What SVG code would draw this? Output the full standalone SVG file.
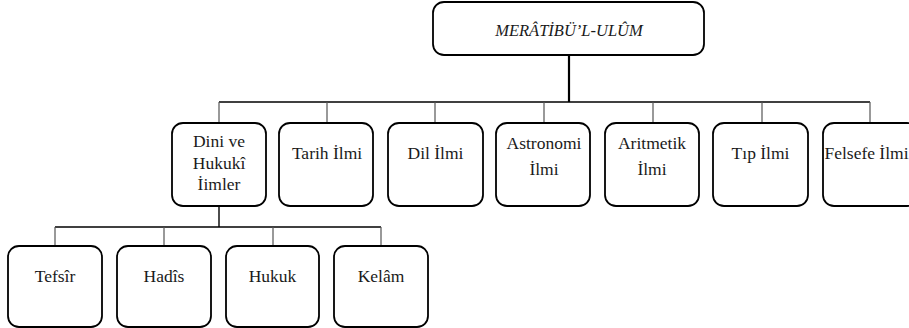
<svg xmlns="http://www.w3.org/2000/svg" width="909" height="328" viewBox="0 0 909 328">
<style>
.box{fill:#fff;stroke:#000;stroke-width:1.8}
text{font-family:'Liberation Serif','DejaVu Serif',serif;font-size:17.5px;fill:#1a1a1a;text-anchor:middle}
.ti{font-style:italic;font-size:16.5px}
.h{stroke:#000;stroke-width:1.4;fill:none}
.d{stroke:#555;stroke-width:1.2;fill:none}
.m{stroke:#000;stroke-width:2.2;fill:none}
</style>
<rect width="909" height="328" fill="#fff"/>
<g id="connectors">
<line class="m" x1="569" y1="55" x2="569" y2="102"/>
<line class="h" x1="219" y1="102" x2="870" y2="102"/>
<line class="d" x1="219" y1="102" x2="219" y2="123"/>
<line class="d" x1="327" y1="102" x2="327" y2="123"/>
<line class="d" x1="435" y1="102" x2="435" y2="123"/>
<line class="d" x1="544" y1="102" x2="544" y2="123"/>
<line class="d" x1="653" y1="102" x2="653" y2="123"/>
<line class="d" x1="762" y1="102" x2="762" y2="123"/>
<line class="d" x1="870" y1="102" x2="870" y2="123"/>
<line class="h" x1="219" y1="206" x2="219" y2="227"/>
<line class="h" x1="55" y1="227" x2="381" y2="227"/>
<line class="d" x1="55" y1="227" x2="55" y2="246"/>
<line class="d" x1="164" y1="227" x2="164" y2="246"/>
<line class="d" x1="273" y1="227" x2="273" y2="246"/>
<line class="d" x1="381" y1="227" x2="381" y2="246"/>
</g>
<g id="root"><rect class="box" x="433" y="2" width="271" height="53" rx="11"/><text class="ti" x="569" y="36">MERÂTİBÜ’L-ULÛM</text></g>
<g id="dini"><rect class="box" x="172" y="123" width="94" height="83" rx="11"/><text x="219" y="147">Dini ve</text><text x="219" y="168.5">Hukukî</text><text x="219" y="190">İimler</text></g>
<g id="tarih"><rect class="box" x="279" y="123" width="94" height="83" rx="11"/><text x="327" y="159">Tarih İlmi</text></g>
<g id="dil"><rect class="box" x="388" y="123" width="95" height="83" rx="11"/><text x="435.5" y="159">Dil İlmi</text></g>
<g id="astronomi"><rect class="box" x="496" y="123" width="94" height="83" rx="11"/><text x="544" y="149">Astronomi</text><text x="544" y="175">İlmi</text></g>
<g id="aritmetik"><rect class="box" x="605" y="123" width="94" height="83" rx="11"/><text x="652" y="149">Aritmetik</text><text x="652" y="175">İlmi</text></g>
<g id="tip"><rect class="box" x="713" y="123" width="95" height="83" rx="11"/><text x="760.5" y="159">Tıp İlmi</text></g>
<g id="felsefe"><rect class="box" x="823" y="123" width="95" height="83" rx="11"/><text x="866.5" y="159">Felsefe İlmi</text></g>
<g id="tefsir"><rect class="box" x="8" y="246" width="94" height="81" rx="11"/><text x="55" y="282">Tefsîr</text></g>
<g id="hadis"><rect class="box" x="117" y="246" width="94" height="81" rx="11"/><text x="164" y="282">Hadîs</text></g>
<g id="hukuk"><rect class="box" x="226" y="246" width="93" height="81" rx="11"/><text x="272.5" y="282">Hukuk</text></g>
<g id="kelam"><rect class="box" x="334" y="246" width="94" height="81" rx="11"/><text x="381" y="282">Kelâm</text></g>
</svg>
